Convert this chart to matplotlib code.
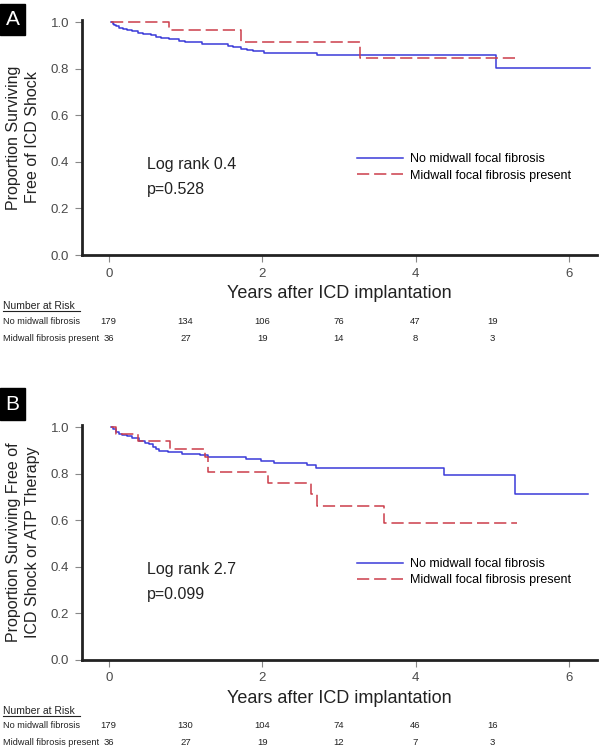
import matplotlib
matplotlib.use("Agg")
import matplotlib.pyplot as plt
from matplotlib.patches import Rectangle
from matplotlib.lines import Line2D

plt.rcParams['font.family'] = ['Liberation Sans', 'DejaVu Sans']

# Panel A: freedom from ICD shock
a_no_t = [0.03, 0.05, 0.07, 0.10, 0.14, 0.18, 0.24, 0.30, 0.38, 0.45, 0.55, 0.62, 0.68, 0.78,
          0.92, 1.00, 1.22, 1.55, 1.62, 1.72, 1.80, 1.88, 2.02, 2.72, 5.05, 6.28]
a_no_s = [1.0, 0.994, 0.989, 0.983, 0.977, 0.972, 0.966, 0.960, 0.955, 0.949, 0.943, 0.937, 0.932, 0.926,
          0.920, 0.914, 0.906, 0.898, 0.892, 0.886, 0.880, 0.875, 0.868, 0.858, 0.805, 0.805]
a_fib_t = [0.03, 0.79, 1.72, 3.27, 5.32]
a_fib_s = [1.0, 0.965, 0.917, 0.845, 0.845]

# Panel B: freedom from ICD shock or ATP therapy
b_no_t = [0.03, 0.06, 0.10, 0.14, 0.17, 0.24, 0.30, 0.40, 0.47, 0.52, 0.58, 0.62, 0.66, 0.77, 0.95,
          1.19, 1.29, 1.79, 1.99, 2.16, 2.59, 2.70, 4.37, 5.30, 6.25]
b_no_s = [1.0, 0.990, 0.978, 0.972, 0.966, 0.960, 0.953, 0.940, 0.932, 0.925, 0.914, 0.905, 0.897, 0.892, 0.885,
          0.879, 0.870, 0.862, 0.855, 0.846, 0.838, 0.822, 0.796, 0.713, 0.713]
b_fib_t = [0.03, 0.095, 0.385, 0.80, 1.25, 1.29, 2.07, 2.64, 2.71, 3.59, 5.32]
b_fib_s = [1.0, 0.968, 0.942, 0.907, 0.870, 0.807, 0.761, 0.712, 0.661, 0.588, 0.588]

# number at risk
risk_times = [0, 1, 2, 3, 4, 5]
a_risk_no = [179, 134, 106, 76, 47, 19]
a_risk_fib = [36, 27, 19, 14, 8, 3]
b_risk_no = [179, 130, 104, 74, 46, 16]
b_risk_fib = [36, 27, 19, 12, 7, 3]

row_labels = ["No midwall fibrosis", "Midwall fibrosis present"]
legend_labels = ["No midwall focal fibrosis", "Midwall focal fibrosis present"]

blue = '#3b3bd9'
red = '#cc3d4a'
W, H = 602, 749

fig = plt.figure(figsize=(6.02, 7.49), dpi=100)


def panel(bottom, letter, letter_y, ylabel, no_t, no_s, fib_t, fib_s, stat, risk_no, risk_fib):
    ax = fig.add_axes([0.136, bottom, 0.855, 0.314])
    ax.step(no_t, no_s, where='post', color=blue, lw=1.1, label=legend_labels[0])
    ax.step(fib_t, fib_s, where='post', color=red, lw=1.1, dashes=(8, 3.2), label=legend_labels[1])
    ax.set_xlim(-0.35, 6.36)
    ax.set_ylim(0, 1.01)
    ax.set_xticks([0, 2, 4, 6])
    ax.set_yticks([0, 0.2, 0.4, 0.6, 0.8, 1.0])
    ax.set_yticklabels(['%.1f' % v for v in ax.get_yticks()])
    for s in ['top', 'right']:
        ax.spines[s].set_visible(False)
    for s in ['left', 'bottom']:
        ax.spines[s].set_linewidth(2)
        ax.spines[s].set_color('#222222')
    ax.tick_params(colors='#888888', labelcolor='#4a4a4a', labelsize=9.5, length=5, width=0.8, pad=4)
    ax.set_xlabel("Years after ICD implantation", fontsize=13, color='#222222', labelpad=4)
    ax.set_ylabel(ylabel, fontsize=11.5, color='#222222', labelpad=8, linespacing=1.3)

    ax.text(0.5, 0.39, stat[0], fontsize=11.5, color='#222222', va='center')
    ax.text(0.5, 0.28, stat[1], fontsize=11.5, color='#222222', va='center')
    ax.legend(loc='upper left', bbox_to_anchor=(0.534, 0.433), frameon=False, fontsize=9,
              handlelength=3.7, handletextpad=0.55, labelspacing=0.35, borderpad=0,
              borderaxespad=0)

    # number at risk table
    tr = ax.get_xaxis_transform()
    hy = bottom - 0.217 * 0.314
    fig.text(0.005, hy, "Number at Risk", fontsize=7.5, color='#222222', va='center', ha='left')
    fig.lines.append(Line2D([3 / W, 80 / W], [hy - 5 / H, hy - 5 / H], transform=fig.transFigure,
                            color='#222222', lw=0.8))
    for row, (lab, vals) in enumerate(zip(row_labels, [risk_no, risk_fib])):
        y = -0.281 - 0.072 * row
        fig.text(0.005, bottom + y * 0.314, lab, fontsize=6.6, color='#222222', va='center')
        for t, v in zip(risk_times, vals):
            ax.text(t, y, str(v), transform=tr, fontsize=6.8, color='#222222',
                    ha='center', va='center', clip_on=False)

    # panel letter box
    fig.patches.append(Rectangle((0.0, 1 - letter_y[1] / H), 25 / W, (letter_y[1] - letter_y[0]) / H,
                                 transform=fig.transFigure, color='black'))
    fig.text(12.5 / W, 1 - (letter_y[0] + letter_y[1]) / 2 / H, letter, color='white',
             fontsize=15, ha='center', va='center')
    return ax


panel(0.6595, "A", (4, 35), "Proportion Surviving\nFree of ICD Shock",
      a_no_t, a_no_s, a_fib_t, a_fib_s, ("Log rank 0.4", "p=0.528"), a_risk_no, a_risk_fib)
panel(0.119, "B", (388, 420), "Proportion Surviving Free of\nICD Shock or ATP Therapy",
      b_no_t, b_no_s, b_fib_t, b_fib_s, ("Log rank 2.7", "p=0.099"), b_risk_no, b_risk_fib)

fig.savefig("out.png", dpi=100)
